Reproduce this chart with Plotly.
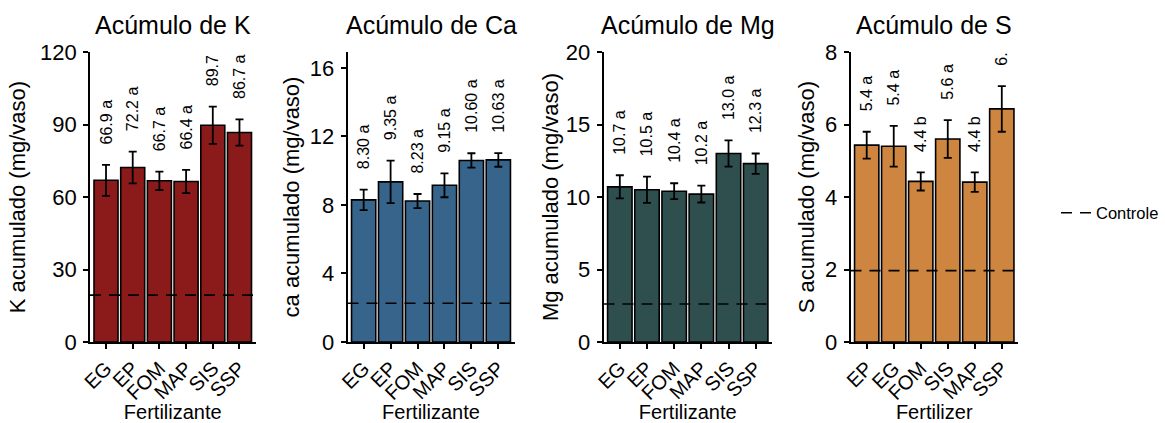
import plotly.graph_objects as go

# ---------------- data ----------------
k_cats = ["EG", "EP", "FOM", "MAP", "SIS", "SSP"]
k_mean = [66.9, 72.2, 66.7, 66.4, 89.7, 86.7]
k_se = [6.4, 6.6, 3.8, 4.8, 7.7, 5.4]
k_lab = ["66.9 a", "72.2 a", "66.7 a", "66.4 a", "89.7 a", "86.7 a"]
k_ctrl = 19.4

ca_cats = ["EG", "EP", "FOM", "MAP", "SIS", "SSP"]
ca_mean = [8.30, 9.35, 8.23, 9.15, 10.60, 10.63]
ca_se = [0.60, 1.24, 0.41, 0.70, 0.42, 0.40]
ca_lab = ["8.30 a", "9.35 a", "8.23 a", "9.15 a", "10.60 a", "10.63 a"]
ca_ctrl = 2.26

mg_cats = ["EG", "EP", "FOM", "MAP", "SIS", "SSP"]
mg_mean = [10.7, 10.5, 10.4, 10.2, 13.0, 12.3]
mg_se = [0.8, 0.9, 0.55, 0.58, 0.9, 0.7]
mg_lab = ["10.7 a", "10.5 a", "10.4 a", "10.2 a", "13.0 a", "12.3 a"]
mg_ctrl = 2.62

s_cats = ["EP", "EG", "FOM", "SIS", "MAP", "SSP"]
s_mean = [5.43, 5.40, 4.43, 5.60, 4.41, 6.43]
s_se = [0.37, 0.56, 0.25, 0.52, 0.27, 0.63]
s_lab = ["5.4 a", "5.4 a", "4.4 b", "5.6 a", "4.4 b", "6.4 a"]
s_ctrl = 1.97

titles = ["Acúmulo de K", "Acúmulo de Ca", "Acúmulo de Mg", "Acúmulo de S"]
ytitles = ["K acumulado (mg/vaso)", "ca acumulado (mg/vaso)",
           "Mg acumulado (mg/vaso)", "S acumulado (mg/vaso)"]
xtitles = ["Fertilizante", "Fertilizante", "Fertilizante", "Fertilizer"]
yticks = [[0, 30, 60, 90, 120], [0, 4, 8, 12, 16], [0, 5, 10, 15, 20], [0, 2, 4, 6, 8]]
ymax = [120, 16.93, 20, 8]
colors = ["#8B1A1A", "#36648B", "#2F4F4F", "#CD853F"]
legend_name = "Controle"

# ---------------- layout helpers ----------------
W, H = 1165, 423
FONT = "Liberation Sans, Arial, sans-serif"
panels_px = [(90, 255.5), (347.5, 514.5), (603.5, 772), (850.5, 1018)]
ytitle_standoff = [8.5, 4.5, 1, 4.5]
top_px, bot_px = 52, 342

panels = [
    (k_cats, k_mean, k_se, k_lab, k_ctrl),
    (ca_cats, ca_mean, ca_se, ca_lab, ca_ctrl),
    (mg_cats, mg_mean, mg_se, mg_lab, mg_ctrl),
    (s_cats, s_mean, s_se, s_lab, s_ctrl),
]

fig = go.Figure()
layout = dict(
    template="none",
    width=W, height=H, margin=dict(l=0, r=0, t=0, b=0, autoexpand=False),
    paper_bgcolor="white", plot_bgcolor="white",
    barmode="overlay", font=dict(family=FONT, color="black"),
    showlegend=True,
    legend=dict(x=1056 / W, y=1 - 213 / H, xanchor="left", yanchor="middle",
                font=dict(size=16.5, family=FONT, color="black"),
                bgcolor="rgba(0,0,0,0)", itemwidth=30),
)
annotations = []
shapes = []

for i, (cats, mean, se, lab, ctrl) in enumerate(panels):
    n = "" if i == 0 else str(i + 1)
    xa, ya = "x" + n, "y" + n
    x0, x1 = panels_px[i]
    layout["xaxis" + n] = dict(
        domain=[x0 / W, x1 / W], anchor=ya, type="category", automargin=False,
        categoryorder="array", categoryarray=cats, range=[-0.6, len(cats) - 0.4],
        showline=True, linecolor="black", linewidth=1.6,
        ticks="outside", ticklen=5, tickwidth=1.5, tickcolor="black",
        tickangle=-45, tickfont=dict(size=20, color="black"),
        showgrid=False, zeroline=False,
        title=dict(text=xtitles[i], font=dict(size=20, color="black"), standoff=8),
    )
    layout["yaxis" + n] = dict(
        domain=[1 - bot_px / H, 1 - top_px / H], anchor=xa, automargin=False,
        range=[0, ymax[i]], tickvals=yticks[i],
        showline=True, linecolor="black", linewidth=1.6,
        ticks="outside", ticklen=5, tickwidth=1.5, tickcolor="black",
        tickfont=dict(size=22, color="black"), ticklabelstandoff=2,
        showgrid=False, zeroline=False,
        title=dict(text=ytitles[i], font=dict(size=22, color="black"),
                   standoff=ytitle_standoff[i]),
    )
    fig.add_trace(go.Bar(
        x=cats, y=mean, width=0.9, xaxis=xa, yaxis=ya,
        marker=dict(color=colors[i], line=dict(color="black", width=1.6)),
        error_y=dict(type="data", array=se, visible=True, color="black",
                     thickness=1.8, width=4),
        showlegend=False, hoverinfo="skip",
    ))
    # invisible bars carrying the significance labels above the error bars
    off = 0.06 * ymax[i]
    fig.add_trace(go.Bar(
        x=cats, y=[m + s + off for m, s in zip(mean, se)], width=0.9,
        xaxis=xa, yaxis=ya,
        marker=dict(color="rgba(0,0,0,0)", line=dict(width=0)),
        text=lab, textposition="outside", textangle=-90,
        constraintext="none", cliponaxis=True,
        textfont=dict(size=16, color="black", family=FONT),
        showlegend=False, hoverinfo="skip",
    ))
    shapes.append(dict(
        type="line", xref=xa + " domain", yref=ya, x0=0, x1=1, y0=ctrl, y1=ctrl,
        line=dict(color="black", width=1.6, dash="11px,8px"), layer="above",
    ))
    annotations.append(dict(
        text=titles[i], xref=xa + " domain", yref="paper", x=0.5,
        y=1 - 41 / H, xanchor="center", yanchor="bottom", showarrow=False,
        font=dict(size=25, color="black", family=FONT),
    ))

# legend entry for the control reference line
fig.add_trace(go.Scatter(
    x=[None], y=[None], mode="lines", name=legend_name,
    line=dict(color="black", width=1.6, dash="11px,8px"),
    hoverinfo="skip",
))

layout["annotations"] = annotations
layout["shapes"] = shapes
fig.update_layout(**layout)
fig.write_html("out.html")
